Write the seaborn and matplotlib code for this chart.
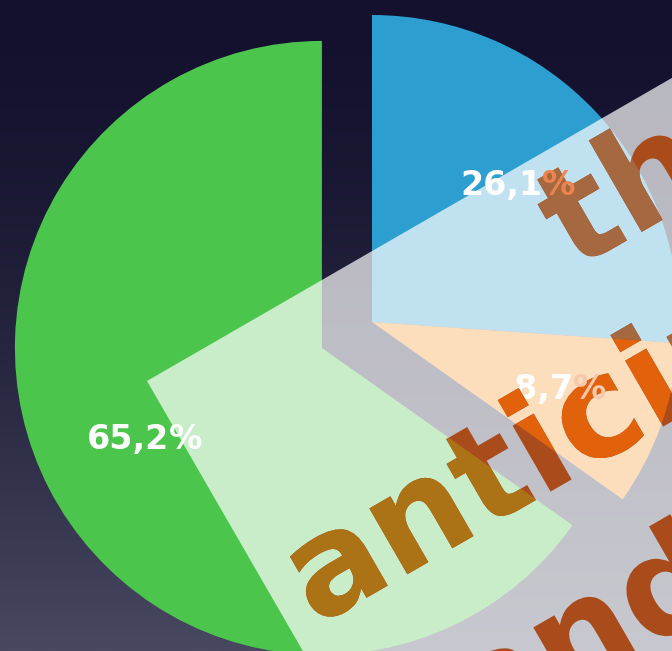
import numpy as np
import matplotlib
matplotlib.use("Agg")
import matplotlib.pyplot as plt
from matplotlib.patches import Polygon, PathPatch
from matplotlib.textpath import TextPath
from matplotlib.font_manager import FontProperties
from matplotlib.transforms import Affine2D
import seaborn as sns

# data
labels = ["blue", "orange", "green"]
shares = [26.1, 8.7, 65.2]
slice_colors = ["#2C9ED0", "#F59126", "#4CC54C"]
pct_sign_colors = ["#EC844E", "#F6C8AE", "white"]
words = ["the", "anticipation", "and"]

sns.set_style("white")
plt.rcParams['font.family'] = ['DejaVu Sans']

W, H = 672, 651
fig = plt.figure(figsize=(W / 100, H / 100), dpi=100)
ax = fig.add_axes([0, 0, 1, 1])

# dark gradient background
t = np.linspace(0, 1, 256)[:, None] ** 1.6
top = np.array([19, 17, 45]) / 255
bot = np.array([72, 72, 97]) / 255
grad = top + (bot - top) * t[..., None]
grad = np.repeat(grad, 2, axis=1)
ax.imshow(grad, extent=[0, W, 0, H], aspect='auto', zorder=0, origin='upper')

# pie (green slice pulled out)
cx, cy, r = 372, H - 322, 307
wedges, texts, autotexts = ax.pie(
    shares,
    colors=sns.color_palette(slice_colors),
    startangle=90,
    counterclock=False,
    explode=[0, 0, 56.4],
    center=(cx, cy),
    radius=r,
    autopct=lambda p: f"{p:.1f}%".replace('.', ','),
    pctdistance=0.65,
    wedgeprops=dict(linewidth=0, edgecolor='none'),
    textprops=dict(color='white', fontsize=24, fontweight='bold'),
)
for w in wedges:
    w.set_zorder(1)

ax.set_xlim(0, W)
ax.set_ylim(0, H)
ax.set_aspect('auto')
ax.axis('off')

# split "%" off the labels so it can sit on top of the big words
fig.canvas.draw()
rend = fig.canvas.get_renderer()
for a, pc in zip(autotexts, pct_sign_colors):
    bb = a.get_window_extent(rend)
    x0, _ = ax.transData.inverted().transform((bb.x0, bb.y0))
    x1, _ = ax.transData.inverted().transform((bb.x1, bb.y0))
    y = a.get_position()[1]
    a.set_text(a.get_text()[:-1])
    a.set_position((x0, y))
    a.set_ha('left')
    a.set_zorder(3)
    ax.text(x1, y, "%", ha='right', va='center', color=pc,
            fontsize=24, fontweight='bold', zorder=6)

# translucent white banner
ang = np.deg2rad(30)
u = np.array([np.cos(ang), np.sin(ang)])
v = np.array([np.sin(ang), -np.cos(ang)])
c0 = np.array([147, H - 381])
L = 1600
banner = Polygon([c0, c0 + L * u, c0 + L * u + L * v, c0 + L * v],
                 closed=True, facecolor='white', alpha=0.7,
                 edgecolor='none', zorder=2)
ax.add_patch(banner)

# big rotated words, coloured by what lies under them
fp = FontProperties(family='DejaVu Sans', weight='bold')
origins = [(574, 380), (316, 24), (480, -95)]
layers = [("#AA4B1C", banner), ("#A56840", wedges[0]),
          ("#E2620C", wedges[1]), ("#AC7216", wedges[2])]
for k, (col, clip) in enumerate(layers):
    for word, (x, y) in zip(words, origins):
        tp = TextPath((0, 0), word, size=139, prop=fp)
        tr = Affine2D().rotate_deg(30).translate(x, y) + ax.transData
        pp = PathPatch(tp, transform=tr, facecolor=col, edgecolor='none',
                       lw=0, zorder=4 + k * 0.1)
        ax.add_patch(pp)
        pp.set_clip_path(clip)

fig.savefig("out.png", dpi=100)
